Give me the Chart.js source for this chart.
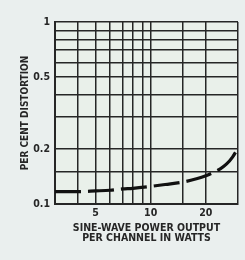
<!DOCTYPE html>
<html>
<head>
<meta charset="utf-8">
<script src="https://cdn.jsdelivr.net/npm/chart.js@4/dist/chart.umd.min.js"></script>
<style>
  html, body { margin: 0; padding: 0; background: #eaefee; }
  #wrap { width: 245px; height: 260px; }
</style>
</head>
<body>
<div id="wrap"><canvas id="distChart" width="245" height="260"></canvas></div>
<script>
// potencia (W) x distorcao (%)
const watts = [3, 4, 5, 6, 7, 8, 10, 12, 15, 18, 20, 22, 24, 26, 28, 30];
const distortion = [0.117, 0.117, 0.118, 0.119, 0.121, 0.122, 0.125, 0.128, 0.132, 0.138, 0.143, 0.149, 0.156, 0.166, 0.181, 0.203];

const xGrid = [3, 4, 5, 6, 7, 8, 9, 10, 15, 20, 30];
const xLabels = [5, 10, 20];
const yGrid = [0.1, 0.15, 0.2, 0.3, 0.4, 0.5, 0.6, 0.7, 0.8, 0.9, 1];
const yLabels = [0.1, 0.2, 0.5, 1];

const ink = '#262626';
const fontFam = "'DejaVu Sans Condensed', 'DejaVu Sans', sans-serif";

const bgPlugin = {
    id: 'bg',
    beforeDraw(chart) {
        const c = chart.ctx;
        c.save();
        c.fillStyle = '#eaefee';
        c.fillRect(0, 0, chart.width, chart.height);
        const a = chart.chartArea;
        c.fillStyle = '#e9f0ea';
        c.fillRect(a.left, a.top, a.right - a.left, a.bottom - a.top);
        c.restore();
    }
};

const ctx = document.getElementById('distChart').getContext('2d');
new Chart(ctx, {
    type: 'line',
    data: {
        datasets: [{
            data: watts.map((w, i) => ({ x: w, y: distortion[i] })),
            borderColor: '#111',
            borderWidth: 3.2,
            borderDash: [26, 7],
            pointRadius: 0,
            cubicInterpolationMode: 'monotone',
            fill: false,
            clip: false
        }]
    },
    options: {
        responsive: false,
        animation: false,
        layout: { padding: { top: 22, right: 7, left: 0, bottom: 0 } },
        plugins: { legend: { display: false }, tooltip: { enabled: false } },
        scales: {
            x: {
                type: 'logarithmic',
                min: 3,
                max: 30,
                afterBuildTicks: s => { s.ticks = xGrid.map(v => ({ value: v })); },
                afterFit: s => { s.height = 56; },
                grid: { color: ink, lineWidth: 1.5, drawTicks: false },
                border: { color: ink, width: 2 },
                ticks: {
                    autoSkip: false,
                    maxRotation: 0,
                    padding: 3,
                    color: ink,
                    font: { family: fontFam, weight: 'bold', size: 10.5 },
                    callback: v => xLabels.includes(v) ? String(v) : ''
                },
                title: {
                    display: true,
                    text: ['SINE-WAVE POWER OUTPUT', 'PER CHANNEL IN WATTS'],
                    color: ink,
                    font: { family: fontFam, weight: 'bold', size: 10.5, lineHeight: 1.0 },
                    padding: { top: 2, bottom: 16 }
                }
            },
            y: {
                type: 'logarithmic',
                min: 0.1,
                max: 1,
                afterBuildTicks: s => { s.ticks = yGrid.map(v => ({ value: v })); },
                afterFit: s => { s.width = 55; },
                grid: { color: ink, lineWidth: 1.5, drawTicks: false },
                border: { color: ink, width: 2 },
                ticks: {
                    autoSkip: false,
                    padding: 5,
                    color: ink,
                    font: { family: fontFam, weight: 'bold', size: 10.5 },
                    callback: v => yLabels.includes(v) ? String(v) : ''
                },
                title: {
                    display: true,
                    text: 'PER CENT DISTORTION',
                    color: ink,
                    font: { family: fontFam, weight: 'bold', size: 10 },
                    padding: { top: 19, bottom: 0 }
                }
            }
        }
    },
    plugins: [bgPlugin]
});
</script>
</body>
</html>
